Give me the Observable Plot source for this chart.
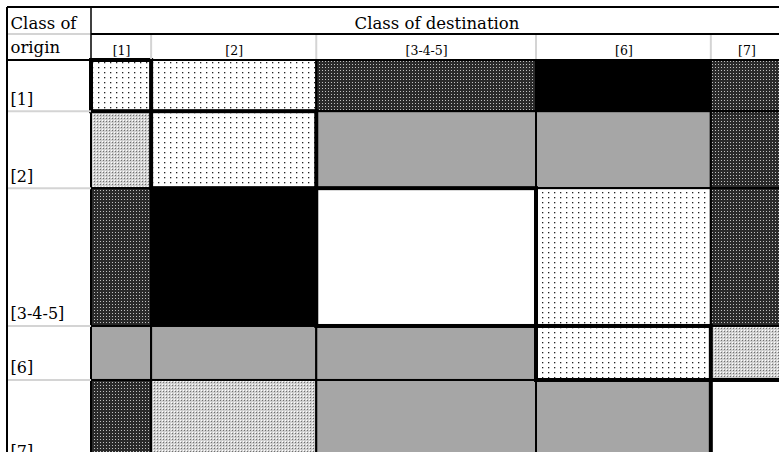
<!DOCTYPE html>
<html><head><meta charset="utf-8">
<script src="https://cdn.jsdelivr.net/npm/d3@7"></script>
<script src="https://cdn.jsdelivr.net/npm/@observablehq/plot@0.6"></script>
<style>body{margin:0;background:#fff} svg{display:block}</style>
</head><body><div id="chart"></div>
<script>
// ---- data ----
const destClasses = ["[1]", "[2]", "[3-4-5]", "[6]", "[7]"];
const originClasses = ["[1]", "[2]", "[3-4-5]", "[6]", "[7]"];
// share of each class (column widths / row heights, %)
const destShares = [8.7, 23.9, 31.8, 25.3, 10.3];
const originShares = [12.7, 19.1, 34.2, 13.4, 20.6];
// cell level per origin row, one entry per destination
const levelsOrigin1 = ["dots", "dots", "dark", "black", "dark"];
const levelsOrigin2 = ["medium", "dots", "grey", "grey", "dark"];
const levelsOrigin345 = ["dark", "black", "white", "dots", "dark"];
const levelsOrigin6 = ["grey", "grey", "grey", "dots", "medium"];
const levelsOrigin7 = ["dark", "medium", "grey", "grey", "white"];
const levelRows = [levelsOrigin1, levelsOrigin2, levelsOrigin345, levelsOrigin6, levelsOrigin7];

// ---- styles ----
const fillFor = {
  black: "#000000",
  dark: "url(#pat-dark)",
  grey: "#a6a6a6",
  medium: "url(#pat-medium)",
  dots: "url(#pat-dots)",
  white: "#ffffff"
};
const serif = "'DejaVu Serif', serif";

// ---- build cells ----
const cum = a => { let s = 0; return a.map(v => { const s0 = s; s += v; return [s0, s]; }); };
const xb = cum(destShares), yb = cum(originShares);
const cells = [];
levelRows.forEach((row, i) => row.forEach((lvl, j) => cells.push({
  origin: originClasses[i], dest: destClasses[j],
  x1: xb[j][0], x2: xb[j][1], y1: yb[i][0], y2: yb[i][1],
  fill: fillFor[lvl], diag: i === j
})));
const cols = destClasses.map((c, j) => ({label: c, x1: xb[j][0], x2: xb[j][1], mid: (xb[j][0] + xb[j][1]) / 2}));
const rows = originClasses.map((c, i) => ({label: c, y1: yb[i][0], y2: yb[i][1]}));
const W = 779, H = 452;

function tableFrame(index, scales, values, dims) {
  const g = d3.create("svg:g");
  const sx = scales.x, sy = scales.y;
  const left = 7, top = 7, midY = 34, headY = sy(0), colX = sx(0), right = dims.width;
  const line = (x1, y1, x2, y2, color, w) => g.append("line")
    .attr("x1", x1).attr("y1", y1).attr("x2", x2).attr("y2", y2)
    .attr("stroke", color).attr("stroke-width", w);
  // light separators in the row-label column
  rows.forEach(r => line(left, sy(r.y2), colX, sy(r.y2), "#d4d4d4", 2));
  line(left, midY, colX, midY, "#d4d4d4", 2);
  // light separators between destination labels
  cols.slice(1).forEach(c => line(sx(c.x1), midY, sx(c.x1), headY, "#d4d4d4", 2));
  // black rules
  line(colX, midY, right, midY, "#000", 2);
  line(left, headY, right, headY, "#000", 2);
  line(colX, top, colX, headY, "#000", 1.5);
  line(left, top, right, top, "#000", 2);
  line(left, top, left, dims.height + 20, "#000", 2);
  return g.node();
}

const chart = Plot.plot({
  width: W, height: H,
  marginLeft: 0, marginRight: 0, marginTop: 0, marginBottom: 0,
  x: {type: "linear", domain: [0, d3.sum(destShares)], range: [91, 782], axis: null},
  y: {type: "linear", domain: [0, d3.sum(originShares)], range: [60, 463], axis: null},
  color: {type: "identity"},
  style: {fontFamily: serif, background: "#fff"},
  marks: [
    Plot.rect(cells.filter(d => !d.diag), {x1: "x1", x2: "x2", y1: "y1", y2: "y2", fill: "fill", stroke: "#000", strokeWidth: 2}),
    Plot.rect(cells.filter(d => d.diag), {x1: "x1", x2: "x2", y1: "y1", y2: "y2", fill: "fill", stroke: "#000", strokeWidth: 4}),
    tableFrame,
    Plot.text(["Class of"], {frameAnchor: "top-left", dx: 10, dy: 28, text: d => d, textAnchor: "start", lineAnchor: "bottom", fontSize: 16.5, fill: "#000"}),
    Plot.text(["origin"], {frameAnchor: "top-left", dx: 10, dy: 52, text: d => d, textAnchor: "start", lineAnchor: "bottom", fontSize: 16.5, fill: "#000"}),
    Plot.text(["Class of destination"], {x: () => d3.sum(destShares) / 2, frameAnchor: "top", dy: 28, text: d => d, lineAnchor: "bottom", fontSize: 16.5, fill: "#000"}),
    Plot.text(cols, {x: "mid", frameAnchor: "top", dy: 54, text: "label", lineAnchor: "bottom", fontSize: 12.5, fill: "#000"}),
    Plot.text(rows, {y: "y2", frameAnchor: "left", dx: 10, dy: -7, text: "label", textAnchor: "start", lineAnchor: "bottom", fontSize: 16, fill: "#000"})
  ]
});

const defs = d3.select(chart).insert("defs", ":first-child");
defs.html(`
<pattern id="pat-dots" patternUnits="userSpaceOnUse" width="6" height="5">
  <rect width="6" height="5" fill="#fff"/>
  <rect x="2" y="2" width="1.3" height="1.3" fill="#222"/>
</pattern>
<pattern id="pat-medium" patternUnits="userSpaceOnUse" width="3" height="3">
  <rect width="3" height="3" fill="#d0d0d0"/>
  <rect x="1" y="1" width="1" height="1" fill="#707070"/>
  <rect x="0" y="0" width="1" height="1" fill="#ffffff"/>
</pattern>
<pattern id="pat-dark" patternUnits="userSpaceOnUse" width="3" height="3">
  <rect width="3" height="3" fill="#2a2a2a"/>
  <rect x="1" y="1" width="1" height="1" fill="#c0c0c0"/>
</pattern>`);
document.getElementById("chart").appendChild(chart);
</script>
</body></html>
